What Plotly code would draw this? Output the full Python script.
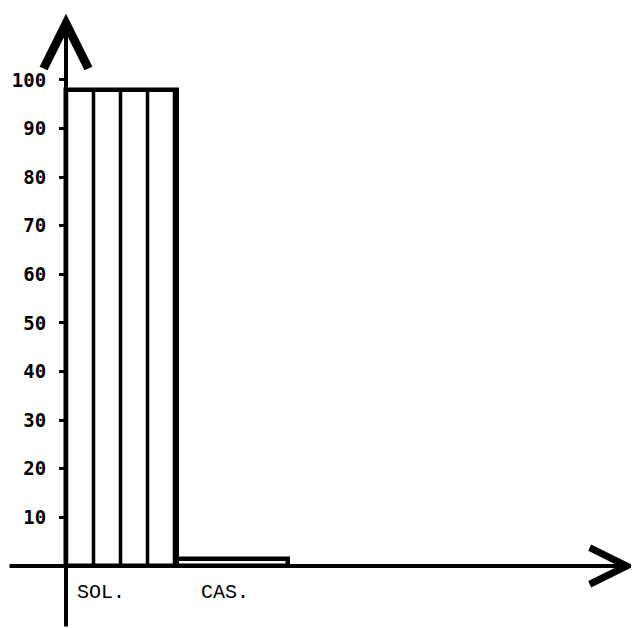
import plotly.graph_objects as go

# ---- data ----
categories = ["SOL.", "CAS."]
values = [98, 1.5]
patterns = ["|", ""]
ytick_vals = [10, 20, 30, 40, 50, 60, 70, 80, 90, 100]
ytick_text = [str(v) for v in ytick_vals]

# ---- style ----
label_xshift = [-21, -8]
FIG_W, FIG_H = 631, 620          # page body has an 8px margin
LEFT = 18                        # plot area start (aligns the hatch pattern)
X_RANGE = [-0.8604, 4.662]
Y_RANGE = [-12.76, 114.8]

fig = go.Figure()
fig.add_trace(go.Bar(
    x=categories, y=values, width=1.0,
    marker=dict(color="white",
                line=dict(color="black", width=4.5),
                pattern=dict(shape=patterns, fgcolor="black", bgcolor="white",
                             fgopacity=1, size=27, solidity=0.13, fillmode="replace")),
    showlegend=False, hoverinfo="skip",
))

annotations = []
# y axis arrow
annotations.append(dict(x=-0.5, y=113.6, ax=-0.5, ay=Y_RANGE[0],
                        xref="x", yref="y", axref="x", ayref="y",
                        showarrow=True, arrowhead=5, arrowwidth=4, arrowsize=2.2,
                        arrowcolor="black", text=""))
# x axis arrow
annotations.append(dict(x=4.62, y=0, ax=-1.0225, ay=0,
                        xref="x", yref="y", axref="x", ayref="y",
                        showarrow=True, arrowhead=5, arrowwidth=4, arrowsize=1.8,
                        arrowcolor="black", text=""))
for cat, xs in zip(categories, label_xshift):
    annotations.append(dict(x=cat, y=0, xref="x", yref="y", text=cat,
                            showarrow=False, xanchor="center", yanchor="top",
                            xshift=xs, yshift=-13,
                            font=dict(family="Liberation Mono", size=20, color="black")))

fig.update_layout(
    width=FIG_W, height=FIG_H, autosize=False,
    margin=dict(l=LEFT, r=0, t=0, b=0),
    paper_bgcolor="white", plot_bgcolor="white",
    bargap=0,
    xaxis=dict(range=X_RANGE, showgrid=False, zeroline=False, showline=False,
               showticklabels=False, ticks=""),
    yaxis=dict(range=Y_RANGE, anchor="free", position=(58 - LEFT) / (FIG_W - LEFT),
               showgrid=False, zeroline=False, showline=False,
               tickmode="array", tickvals=ytick_vals, ticktext=ytick_text,
               ticks="outside", ticklen=7, tickwidth=3, tickcolor="black",
               ticklabelstandoff=9,
               tickfont=dict(family="DejaVu Sans Mono", size=19, color="black", weight="bold")),
    annotations=annotations,
)

fig.write_html("out.html")
